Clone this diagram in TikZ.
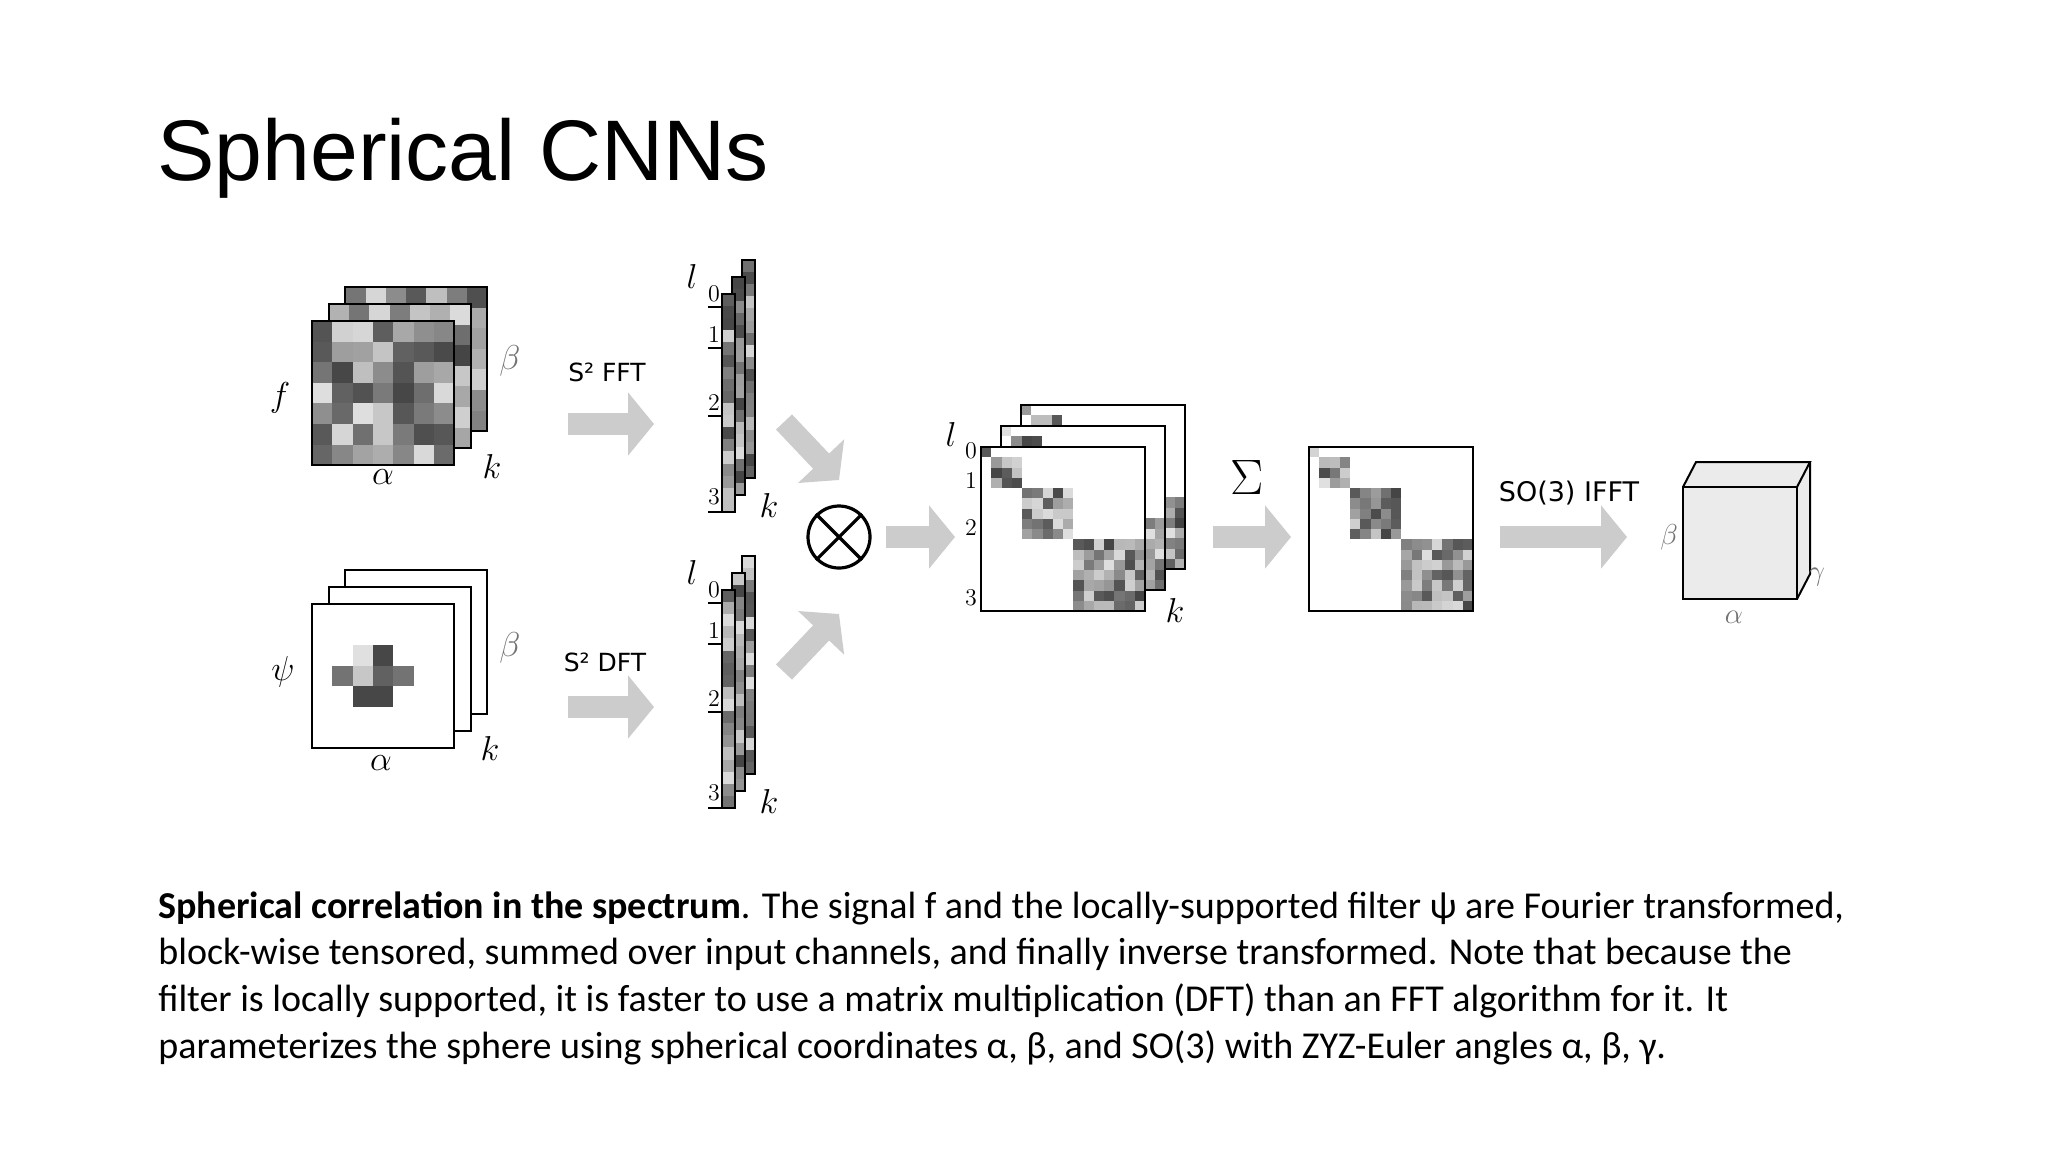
\documentclass[tikz,border=0pt]{standalone}
\usepackage{fontspec}
\setmainfont{Carlito}
\newfontfamily\titlefont{Liberation Sans}
\newfontfamily\dvs{DejaVu Sans}
\usetikzlibrary{arrows.meta}
\definecolor{arr}{HTML}{CCCCCC}
\tikzset{
  garrow/.style={arr, line width=11pt, -{Triangle[width=31pt,length=13pt]}},
  lbl/.style={font=\fontsize{18}{18}\selectfont, inner sep=0pt},
  slbl/.style={font=\fontsize{16}{16}\selectfont, text=black!55, inner sep=0pt},
  clbl/.style={font=\fontsize{15}{15}\selectfont, text=black!55, inner sep=0pt},
  num/.style={font=\fontsize{13}{13}\selectfont, inner sep=0pt},
  tlbl/.style={font=\dvs\fontsize{12.5}{12.5}\selectfont, inner sep=0pt},
  body/.style={font=\fontsize{19}{23}\selectfont, anchor=base west, inner sep=0pt},
  frame/.style={draw=black, line width=1pt}
}
\newcommand{\rgray}{\pgfmathsetmacro\g{int(12+random(0,62))}}
\newcommand{\mygrid}[4]{%
  \foreach \i in {0,...,6}{\foreach \j in {0,...,6}{\rgray
    \fill[black!\g] ({#1+\i*#3},{#2+\j*#4}) rectangle ++(#3,#4);}}
  \draw[frame] (#1,#2) rectangle ++({7*#3},{7*#4});}
\newcommand{\mystrip}[2]{%
  \foreach \j in {0,...,17}{\rgray
    \fill[black!\g] (#1,{#2+\j*12.11}) rectangle ++(13,12.11);}
  \draw[frame] (#1,#2) rectangle ++(13,218);}
\newcommand{\mymat}[2]{%
  \fill[white] (#1,#2) rectangle ++(164,164);
  \foreach \l/\s/\n in {0/0/0,1/1/2,2/4/4,3/9/6}{
    \foreach \i in {0,...,\n}{\foreach \j in {0,...,\n}{\rgray
      \fill[black!\g] ({#1+(\s+\i)*10.25},{#2+(\s+\j)*10.25}) rectangle ++(10.25,10.25);}}}
  \draw[frame] (#1,#2) rectangle ++(164,164);}
\begin{document}
\begin{tikzpicture}[x=0.5pt,y=-0.5pt]
\pgfmathsetseed{7}
\useasboundingbox[fill=white] (0,0) rectangle (2048,1152);
\node[anchor=base west, inner sep=0pt, font=\titlefont\fontsize{43}{44}\selectfont] (title) at (157,180) {Spherical CNNs};

% f input
\foreach \L in {2,1,0}{\mygrid{312+16.6*\L}{321-17*\L}{20.3}{20.6}}
\node[lbl] (flab) at (280,398) {$f$};
\node[lbl] (fa) at (383,477) {$\alpha$};
\node[slbl] (fb) at (510,361) {$\beta$};
\node[lbl] (fk) at (492,466) {$k$};

% psi filter
\foreach \L in {2,1,0}{
  \draw[frame, fill=white] ({312+16.6*\L},{604-17*\L}) rectangle ++(142,144);}
\foreach \c/\r/\gg in {2/2/12,3/2/72,1/3/55,2/3/22,3/3/62,4/3/55,2/4/72,3/4/72}{
  \fill[black!\gg] ({312+\c*20.3},{604+\r*20.6}) rectangle ++(20.3,20.6);}
\node[lbl] (plab) at (283,672) {$\psi$};
\node[lbl] (pa) at (381,763) {$\alpha$};
\node[slbl] (pb) at (510,648) {$\beta$};
\node[lbl] (pk) at (490,748) {$k$};

% transform arrows
\coordinate (fft1) at (568,424); \coordinate (fft2) at (654,424);
\draw[garrow] (fft1) -- (fft2);
\node[tlbl] (fftl) at (607,372) {S² FFT};
\coordinate (dft1) at (568,707); \coordinate (dft2) at (654,707);
\draw[garrow] (dft1) -- (dft2);
\node[tlbl] (dftl) at (605,662) {S² DFT};

% spectral strips
\foreach \dy in {0,296}{
  \foreach \L in {2,1,0}{\mystrip{722+10*\L}{294+\dy-17*\L}}
  \foreach \t in {307,348,416,512}{\draw[line width=0.8pt] (708,\t+\dy) -- (722,\t+\dy);}
  \node[num] at (714,{294+\dy}) {$0$};
  \node[num] at (714,{335+\dy}) {$1$};
  \node[num] at (714,{403+\dy}) {$2$};
  \node[num] at (714,{497+\dy}) {$3$};
  \node[lbl] at (692,{276+\dy}) {$l$};
  \node[lbl] at (769,{505+\dy}) {$k$};
}

\begin{scope}[shift={(-21,-9)}]
% otimes
\node[draw, circle, line width=1.6pt, minimum size=31pt, inner sep=0pt] (ot) at (860,546) {};
\draw[line width=1.6pt] (ot.45) -- (ot.225) (ot.135) -- (ot.315);
\coordinate (d1a) at (805,431); \coordinate (d1b) at (860,489);
\draw[garrow] (d1a) -- (d1b);
\coordinate (d2a) at (805,681); \coordinate (d2b) at (860,623);
\draw[garrow] (d2a) -- (d2b);
\coordinate (m1) at (907,546); \coordinate (m2) at (976,546);
\draw[garrow] (m1) -- (m2);

% tensor product stack
\foreach \L in {2,1,0}{\mymat{1002+20*\L}{456-21*\L}}
\node[lbl] at (972,443) {$l$};
\node[num] at (992,460) {$0$};
\node[num] at (992,490) {$1$};
\node[num] at (992,537) {$2$};
\node[num] at (992,607) {$3$};
\node[lbl] at (1196,619) {$k$};

% sum
\node[font=\fontsize{40}{40}\selectfont, inner sep=0pt] (sig) at (1268,486) {$\Sigma$};
\coordinate (s1) at (1234,546); \coordinate (s2) at (1312,546);
\draw[garrow] (s1) -- (s2);
\mymat{1330}{456}

% IFFT
\node[tlbl, font=\dvs\fontsize{13.5}{13.5}\selectfont] (ifl) at (1590,502) {SO(3) IFFT};
\coordinate (i1) at (1521,546); \coordinate (i2) at (1648,546);
\draw[garrow] (i1) -- (i2);

% cube
\fill[black!8] (1704,496) -- ++(13,-25) -- ++(114,0) -- ++(0,112) -- ++(-13,25) -- ++(-114,0) -- cycle;
\draw[line width=1pt] (1704,496) rectangle (1818,608);
\draw[line width=1pt] (1704,496) -- ++(13,-25) -- ++(114,0) -- ++(-13,25) ++(13,-25) -- ++(0,112) -- (1818,608);
\node[clbl] at (1690,546) {$\beta$};
\node[clbl] at (1838,586) {$\gamma$};
\node[clbl] at (1755,626) {$\alpha$};
\end{scope}

% caption
\node[body] (c1) at (158,918) {\textbf{Spherical correlation in the spectrum}. The signal f and the locally-supported filter ψ are Fourier transformed,};
\node[body] (c2) at (158,964) {block-wise tensored, summed over input channels, and finally inverse transformed. Note that because the};
\node[body] (c3) at (158,1011) {filter is locally supported, it is faster to use a matrix multiplication (DFT) than an FFT algorithm for it. It};
\node[body] (c4) at (158,1058) {parameterizes the sphere using spherical coordinates α, β, and SO(3) with ZYZ-Euler angles α, β, γ.};
\end{tikzpicture}
\end{document}
